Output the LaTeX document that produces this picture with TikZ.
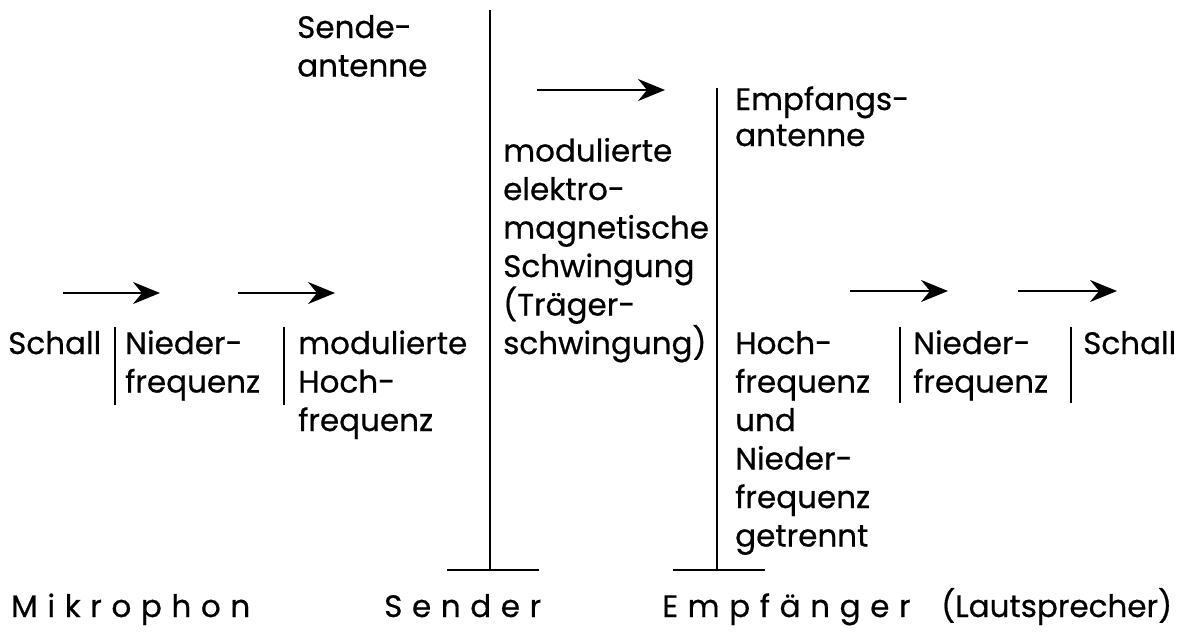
\documentclass[tikz,border=0pt]{standalone}
\usepackage{fontspec}
\setmainfont{Poppins}[FakeBold=0.6]
\usetikzlibrary{arrows.meta}
\begin{document}
\begin{tikzpicture}[x=1pt,y=-1pt,
  txt/.style={anchor=base west, inner sep=0pt, align=left, font=\fontsize{31}{38.5}\selectfont},
  lbl/.style={anchor=base west, inner sep=0pt, font=\fontsize{31}{35}\selectfont\addfontfeature{LetterSpace=31}},
  plain/.style={anchor=base west, inner sep=0pt, font=\fontsize{31}{35}\selectfont},
  ln/.style={line width=2pt},
  flow/.style={line width=2pt, -{Stealth[length=27pt,width=22pt,inset=9pt]}}]
\useasboundingbox (0,0) rectangle (1180,633);

% antennas
\coordinate (sTop) at (490,10);
\coordinate (sFoot) at (490,570);
\coordinate (sBarL) at (447,570);
\coordinate (sBarR) at (539,570);
\coordinate (eTop) at (717,88);
\coordinate (eFoot) at (717,570);
\coordinate (eBarL) at (673,570);
\coordinate (eBarR) at (765,570);
\draw[ln] (sTop) -- (sFoot);
\draw[ln] (sBarL) -- (sBarR);
\draw[ln] (eTop) -- (eFoot);
\draw[ln] (eBarL) -- (eBarR);

% separators
\coordinate (s1a) at (115,327); \coordinate (s1b) at (115,405);
\coordinate (s2a) at (284,327); \coordinate (s2b) at (284,405);
\coordinate (s3a) at (900,327); \coordinate (s3b) at (900,403);
\coordinate (s4a) at (1071,327); \coordinate (s4b) at (1071,403);
\draw[ln] (s1a) -- (s1b);
\draw[ln] (s2a) -- (s2b);
\draw[ln] (s3a) -- (s3b);
\draw[ln] (s4a) -- (s4b);

% arrows
\coordinate (a1a) at (63,293);  \coordinate (a1b) at (160,293);
\coordinate (a2a) at (238,293); \coordinate (a2b) at (335,293);
\coordinate (a3a) at (537,90);  \coordinate (a3b) at (665,90);
\coordinate (a4a) at (850,291); \coordinate (a4b) at (948,291);
\coordinate (a5a) at (1018,291); \coordinate (a5b) at (1117,291);
\draw[flow] (a1a) -- (a1b);
\draw[flow] (a2a) -- (a2b);
\draw[flow] (a3a) -- (a3b);
\draw[flow] (a4a) -- (a4b);
\draw[flow] (a5a) -- (a5b);

% texts (anchor = baseline of the last line)
\node[txt] (sendeant) at (297,76.5) {Sende-\\antenne};
\node[txt, font=\fontsize{31}{36}\selectfont] (empfant) at (735,146) {Empfangs-\\antenne};
\node[txt] (welle) at (503,354) {modulierte\\elektro-\\magnetische\\Schwingung\\(Träger-\\schwingung)};
\node[txt] (schall1) at (8,354) {Schall};
\node[txt] (nf1) at (125,392.5) {Nieder-\\frequenz};
\node[txt] (mhf) at (298,431) {modulierte\\Hoch-\\frequenz};
\node[txt] (hfnf) at (735,546.5) {Hoch-\\frequenz\\und\\Nieder-\\frequenz\\getrennt};
\node[txt] (nf2) at (913,392.5) {Nieder-\\frequenz};
\node[txt] (schall2) at (1083,354) {Schall};

\node[lbl] (mikro) at (11,617) {Mikrophon};
\node[lbl] (sender) at (384,617) {Sender};
\node[lbl] (empf) at (662,617) {Empfänger};
\node[plain] (laut) at (941,617) {(Lautsprecher)};
\end{tikzpicture}
\end{document}
